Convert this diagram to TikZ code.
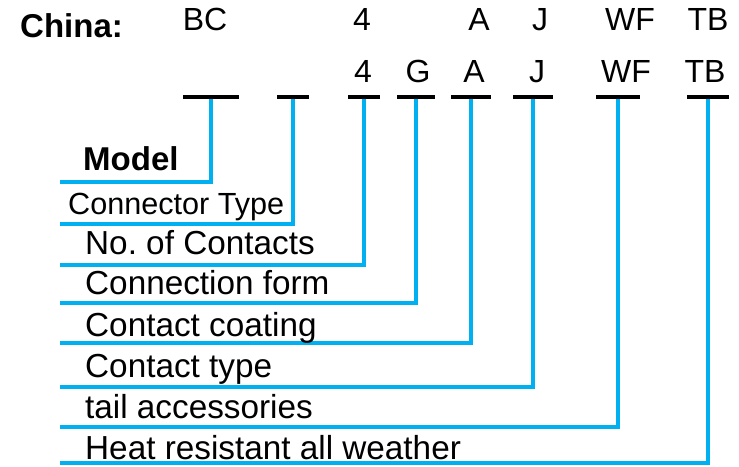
\documentclass[tikz,border=0pt]{standalone}
\usepackage{fontspec}
\setmainfont{Liberation Sans}
\definecolor{lblue}{RGB}{0,176,240}
\begin{document}
\frenchspacing
\begin{tikzpicture}[x=1pt,y=-1pt,
  code/.style={anchor=base, inner sep=0pt, font=\fontsize{32}{36}\selectfont},
  lab/.style={anchor=base west, inner sep=0pt, font=\fontsize{33.3}{36}\selectfont},
  conn/.style={draw=lblue, line width=4pt, line join=miter},
  barn/.style={fill=black, inner sep=0pt, minimum height=3.5pt}]
\useasboundingbox (0,0) rectangle (739,466);
% header
\node[anchor=base west, inner sep=0pt, font=\fontsize{33}{36}\selectfont\bfseries] (china) at (20,37) {China:};
\node[code] (r1bc) at (205,30) {BC};
\node[code] (r14) at (362,30) {4};
\node[code] (r1a) at (479,30) {A};
\node[code] (r1j) at (540,30) {J};
\node[code] (r1wf) at (630,30) {WF};
\node[code] (r1tb) at (708,30) {TB};
\node[code] (r24) at (363,82) {4};
\node[code] (r2g) at (418,82) {G};
\node[code] (r2a) at (474,82) {A};
\node[code] (r2j) at (537,82) {J};
\node[code] (r2wf) at (626,82) {WF};
\node[code] (r2tb) at (705,82) {TB};
% line ends
\coordinate (e1) at (60,182);
\coordinate (e2) at (60,224);
\coordinate (e3) at (60,265);
\coordinate (e4) at (60,303);
\coordinate (e5) at (60,343);
\coordinate (e6) at (60,387);
\coordinate (e7) at (60,427);
\coordinate (e8) at (60,463);
% bars
\node[barn, minimum width=55pt] (b1) at (211,97) {};
\node[barn, minimum width=31pt] (b2) at (293,97) {};
\node[barn, minimum width=32pt] (b3) at (364,97) {};
\node[barn, minimum width=38pt] (b4) at (416,97) {};
\node[barn, minimum width=40pt] (b5) at (471,97) {};
\node[barn, minimum width=39pt] (b6) at (533,97) {};
\node[barn, minimum width=43pt] (b7) at (618,97) {};
\node[barn, minimum width=42pt] (b8) at (708,97) {};
% connectors
\foreach \i in {1,...,8} {\draw[conn] (b\i.center) |- (e\i);}
% bars on top of connectors
\foreach \i in {1,...,8} {\fill (b\i.north west) rectangle (b\i.south east);}
% labels
\node[anchor=base west, inner sep=0pt, font=\fontsize{33}{36}\selectfont\bfseries] (l1) at (83,170) {Model};
\node[lab, font=\fontsize{30.6}{36}\selectfont] (l2) at (68,214) {Connector Type};
\node[lab] (l3) at (85,254) {No. of Contacts};
\node[lab] (l4) at (85,294) {Connection form};
\node[lab] (l5) at (85,336) {Contact coating};
\node[lab] (l6) at (85,377) {Contact type};
\node[lab] (l7) at (85,418) {tail accessories};
\node[lab] (l8) at (85,459) {Heat resistant all weather};
\end{tikzpicture}
\end{document}
